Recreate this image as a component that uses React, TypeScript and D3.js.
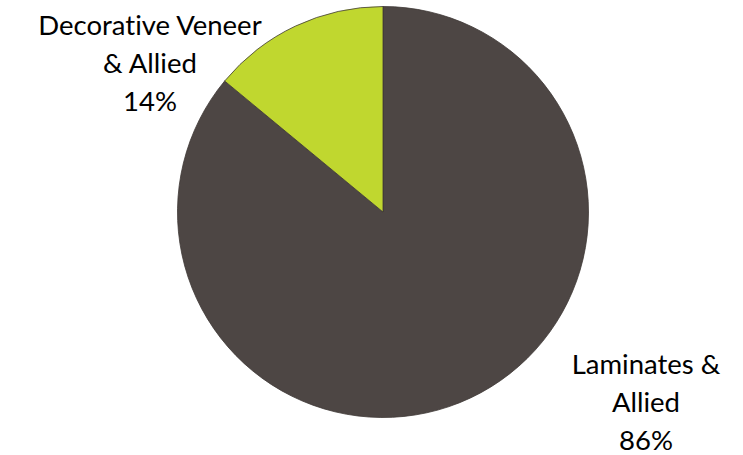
import React from "react";
import * as d3 from "d3";

const categories = ["Laminates & Allied", "Decorative Veneer & Allied"];
const values = [86, 14];
const colors = ["#4d4644", "#c0d72f"];
const labelLines = [
  ["Laminates &", "Allied", "86%"],
  ["Decorative Veneer", "& Allied", "14%"],
];

const W = 743;
const H = 455;
const cx = 383;
const cy = 212;
const R = 205.5;
const labelPos = [
  { x: 646, y: 374 },
  { x: 150, y: 35 },
];
const lineGap = 38;

export default function App() {
  const data = categories.map((c, i) => ({ c, v: values[i], i }));
  const pie = d3.pie<any>().value((d) => d.v).sort(null);
  const arcs = pie(data);
  const arc = d3.arc<any>().innerRadius(0).outerRadius(R);
  return (
    <svg
      width={W}
      height={H}
      style={{ position: "fixed", left: 0, top: 0, background: "#fff" }}
    >
      <g transform={`translate(${cx},${cy})`}>
        {arcs.map((a, i) => (
          <path
            key={i}
            d={arc(a) as string}
            fill={colors[i]}
            stroke="#3f3936"
            strokeWidth={0.8}
          />
        ))}
      </g>
      {labelLines.map((lines, i) => (
        <text
          key={i}
          textAnchor="middle"
          fontFamily="Lato, 'Open Sans', sans-serif"
          fontSize={27.5}
          fill="#000"
          style={{ fontVariantLigatures: "none" }}
        >
          {lines.map((l, j) => (
            <tspan key={j} x={labelPos[i].x} y={labelPos[i].y + j * lineGap}>
              {l}
            </tspan>
          ))}
        </text>
      ))}
    </svg>
  );
}
